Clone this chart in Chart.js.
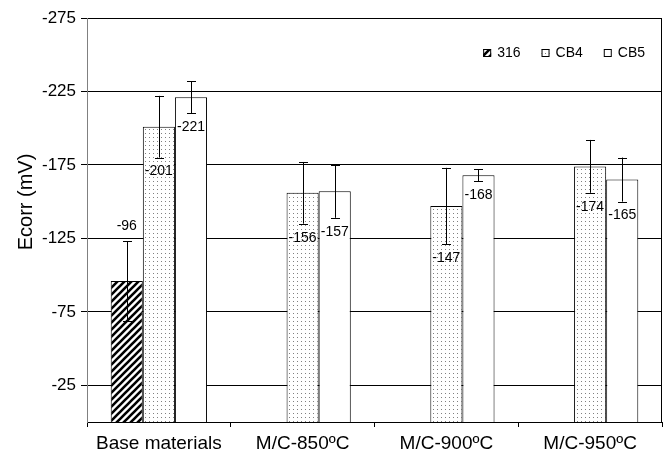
<!DOCTYPE html>
<html>
<head>
<meta charset="utf-8">
<script src="https://cdn.jsdelivr.net/npm/chart.js@4"></script>
<style>
  body { margin: 0; background: #fff; }
  canvas { display: block; }
</style>
</head>
<body>
<canvas id="chart" width="665" height="453"></canvas>
<script>
const categories = ['Base materials', 'M/C-850ºC', 'M/C-900ºC', 'M/C-950ºC'];
const ss316 = [-96, null, null, null];
const ss316Err = [27, null, null, null];
const cb4 = [-201, -156, -147, -174];
const cb4Err = [21, 21, 26, 18];
const cb5 = [-221, -157, -168, -165];
const cb5Err = [11, 18, 4, 15];
const yTicks = [-275, -225, -175, -125, -75, -25];

const FONT = 'Liberation Sans, Arial, sans-serif';

// fill patterns
function hatchPattern() {
    const c = document.createElement('canvas');
    c.width = 7; c.height = 7;
    const g = c.getContext('2d');
    g.fillStyle = '#fff';
    g.fillRect(0, 0, 7, 7);
    g.strokeStyle = '#000';
    g.lineWidth = 2.6;
    g.beginPath();
    g.moveTo(-1, 1); g.lineTo(1, -1);
    g.moveTo(0, 7); g.lineTo(7, 0);
    g.moveTo(6, 8); g.lineTo(8, 6);
    g.stroke();
    return g.createPattern(c, 'repeat');
}

function dotPattern() {
    const c = document.createElement('canvas');
    c.width = 4; c.height = 4;
    const g = c.getContext('2d');
    g.fillStyle = '#fff';
    g.fillRect(0, 0, 4, 4);
    g.fillStyle = '#808080';
    g.fillRect(1, 1, 1, 1);
    return g.createPattern(c, 'repeat');
}

const ctx = document.getElementById('chart').getContext('2d');

// error bars + value labels
const errorBars = {
    id: 'errorBars',
    afterDatasetsDraw(chart) {
        const g = chart.ctx;
        const y = chart.scales.y;
        g.save();
        chart.data.datasets.forEach((ds, i) => {
            const meta = chart.getDatasetMeta(i);
            meta.data.forEach((bar, j) => {
                const v = ds.data[j];
                if (v === null) return;
                const e = ds.errors[j];
                const x = Math.round(bar.x) + 0.5;
                const yHi = y.getPixelForValue(v - e);
                const yLo = y.getPixelForValue(v + e);
                g.strokeStyle = '#000';
                g.lineWidth = 1;
                g.beginPath();
                g.moveTo(x, yHi); g.lineTo(x, yLo);
                g.moveTo(x - 4.5, Math.round(yHi) + 0.5); g.lineTo(x + 4.5, Math.round(yHi) + 0.5);
                g.moveTo(x - 4.5, Math.round(yLo) + 0.5); g.lineTo(x + 4.5, Math.round(yLo) + 0.5);
                g.stroke();

                g.fillStyle = '#000';
                g.font = '14px ' + FONT;
                g.textAlign = 'center';
                g.textBaseline = 'middle';
                const ly = ds.labelAbove ? yHi - 15 : yLo + 14;
                g.fillText(String(v), bar.x, ly);
            });
        });
        g.restore();
    }
};

// frame, title, legend
const decorations = {
    id: 'decorations',
    afterDraw(chart) {
        const g = chart.ctx;
        const a = chart.chartArea;
        g.save();
        g.strokeStyle = '#000';
        g.lineWidth = 1;
        g.beginPath();
        g.moveTo(Math.round(a.right) - 0.5, a.top);
        g.lineTo(Math.round(a.right) - 0.5, a.bottom);
        g.stroke();

        // y title
        g.fillStyle = '#000';
        g.font = '20px ' + FONT;
        g.textAlign = 'center';
        g.textBaseline = 'middle';
        g.translate(26, 202);
        g.rotate(-Math.PI / 2);
        g.fillText('Ecorr (mV)', 0, 0);
        g.setTransform(1, 0, 0, 1, 0, 0);

        // legend
        g.font = '14px ' + FONT;
        g.textAlign = 'left';
        const items = chart.data.datasets;
        const widths = items.map(d => 8 + 6 + g.measureText(d.label).width);
        let total = widths.reduce((s, w) => s + w, 0) + 21 * (items.length - 1);
        let x = a.right - 17 - total;
        const ly = 53;
        items.forEach((d, i) => {
            g.fillStyle = d.backgroundColor;
            g.fillRect(x, ly - 4, 8, 8);
            g.strokeStyle = '#000';
            g.strokeRect(x + 0.5, ly - 3.5, 7, 7);
            g.fillStyle = '#000';
            g.fillText(d.label, x + 14, ly);
            x += widths[i] + 21;
        });
        g.restore();
    }
};

new Chart(ctx, {
    type: 'bar',
    data: {
        labels: categories,
        datasets: [
            {
                label: '316',
                data: ss316,
                errors: ss316Err,
                labelAbove: true,
                backgroundColor: hatchPattern(),
                borderColor: '#000',
                borderWidth: 1
            },
            {
                label: 'CB4',
                data: cb4,
                errors: cb4Err,
                backgroundColor: dotPattern(),
                borderColor: '#000',
                borderWidth: 1
            },
            {
                label: 'CB5',
                data: cb5,
                errors: cb5Err,
                backgroundColor: '#fff',
                borderColor: '#000',
                borderWidth: 1
            }
        ]
    },
    options: {
        responsive: false,
        animation: false,
        categoryPercentage: 0.67,
        barPercentage: 1,
        layout: { padding: { top: 18, right: 3, left: 0, bottom: 0 } },
        plugins: {
            legend: { display: false },
            tooltip: { enabled: false }
        },
        scales: {
            x: {
                afterFit(scale) { scale.height = 31; },
                grid: {
                    offset: true,
                    drawOnChartArea: false,
                    tickLength: 5,
                    tickColor: '#000'
                },
                border: { color: '#000' },
                ticks: {
                    color: '#000',
                    font: { family: FONT, size: 19 },
                    padding: 5,
                    maxRotation: 0
                }
            },
            y: {
                reverse: true,
                min: -275,
                max: 0,
                afterFit(scale) { scale.width = 87; },
                afterBuildTicks(scale) {
                    scale.ticks = yTicks.map(v => ({ value: v }));
                },
                grid: {
                    color: '#000',
                    tickColor: '#000',
                    tickLength: 6
                },
                border: { color: '#808080' },
                ticks: {
                    color: '#000',
                    font: { family: FONT, size: 17 },
                    padding: 5
                }
            }
        }
    },
    plugins: [errorBars, decorations]
});
</script>
</body>
</html>
